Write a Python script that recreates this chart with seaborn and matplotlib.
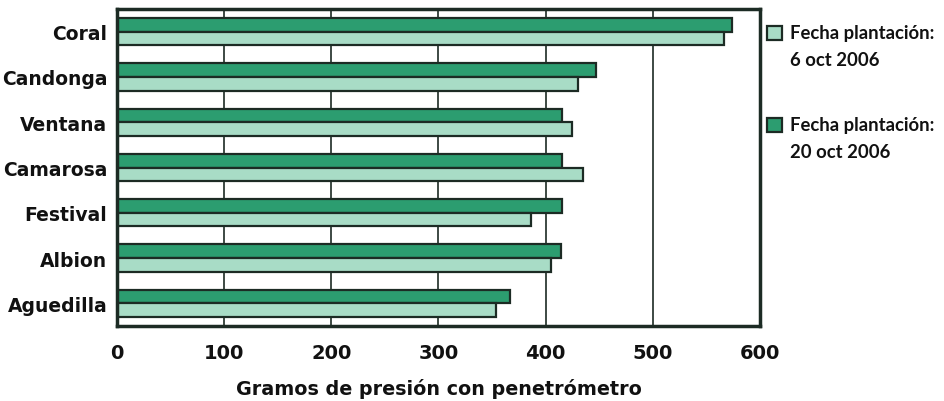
import numpy as np
import pandas as pd
import matplotlib.pyplot as plt
import seaborn as sns
from matplotlib.patches import Rectangle

variedades = ["Coral", "Candonga", "Ventana", "Camarosa", "Festival", "Albion", "Aguedilla"]
oct20 = [574, 447, 415, 415, 415, 414, 367]
oct6 = [566, 430, 425, 435, 386, 405, 354]
serie_20 = "20 oct 2006"
serie_6 = "6 oct 2006"
xticks = [0, 100, 200, 300, 400, 500, 600]

DARK = "#2c9d70"
LIGHT = "#a8dcc6"
EDGE = "#1c2b24"
TEXT = "#111111"

df = pd.DataFrame({
    "variedad": variedades * 2,
    "gramos": oct20 + oct6,
    "serie": [serie_20] * len(variedades) + [serie_6] * len(variedades),
})

sns.set_style("white")
plt.rcParams["font.family"] = ["DejaVu Sans"]
plt.rcParams["text.color"] = TEXT
plt.rcParams["xtick.labelcolor"] = TEXT
plt.rcParams["ytick.labelcolor"] = TEXT
plt.rcParams["axes.labelcolor"] = TEXT

W, H = 945, 402
fig = plt.figure(figsize=(W / 100, H / 100), dpi=100)
ax = fig.add_axes([117 / W, 75 / H, 643 / W, 317 / H])

sns.barplot(data=df, x="gramos", y="variedad", hue="serie",
            hue_order=[serie_20, serie_6], order=variedades,
            palette=[DARK, LIGHT], saturation=1, width=0.6, orient="h",
            edgecolor=EDGE, linewidth=1.6, ax=ax, legend=False)

ax.set_xlim(0, 600)
ax.set_ylim(len(variedades) - 0.5, -0.5)
ax.set_xticks(xticks)
ax.set_xticklabels([str(t) for t in xticks], fontsize=14, fontweight="bold")
ax.tick_params(axis="x", direction="out", length=5, width=1.5, color=EDGE, pad=7)
ax.tick_params(axis="y", which="major", length=0, pad=7)
ax.set_yticks(np.arange(len(variedades)) + 0.5, minor=True)
ax.tick_params(axis="y", which="minor", direction="out", length=5, width=1.5, color=EDGE)
for lbl in ax.get_yticklabels():
    lbl.set_fontsize(13.5)
    lbl.set_fontweight("bold")

for x in xticks[1:-1]:
    ax.axvline(x, color=EDGE, linewidth=1.2, zorder=0)

for s in ax.spines.values():
    s.set_visible(True)
    s.set_linewidth(2.5)
    s.set_color(EDGE)

ax.set_ylabel("")
ax.set_xlabel("Gramos de presión con penetrómetro", fontsize=13.8,
              fontweight="bold", labelpad=12)

# leyenda a mano: el cuadro va alineado con la primera línea del texto
for color, fecha, y0 in [(LIGHT, serie_6, 34), (DARK, serie_20, 126)]:
    fig.patches.append(Rectangle((767 / W, 1 - (y0 + 7) / H), 15 / W, 14 / H,
                                 transform=fig.transFigure, facecolor=color,
                                 edgecolor=EDGE, linewidth=1.6))
    fig.text(790 / W, 1 - y0 / H, "Fecha plantación:", fontsize=13.3,
             fontweight="bold", family="Lato", va="center", ha="left")
    fig.text(790 / W, 1 - (y0 + 26) / H, fecha, fontsize=13.3,
             fontweight="bold", family="Lato", va="center", ha="left")

fig.savefig("out.png", dpi=100)
